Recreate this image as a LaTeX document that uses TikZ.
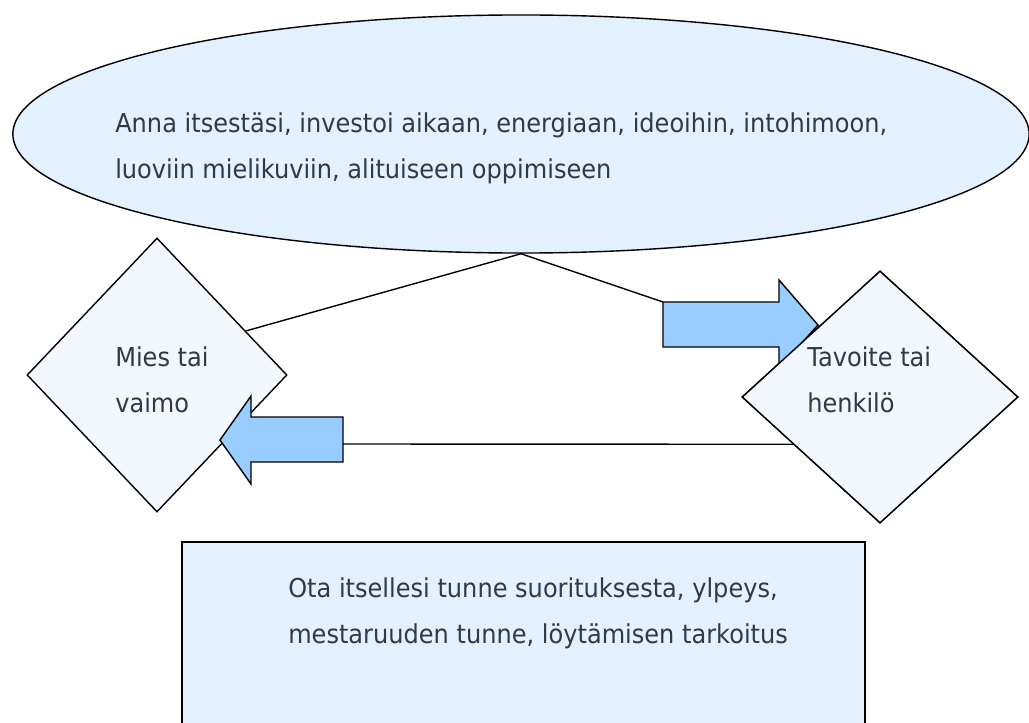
\documentclass[tikz,border=0pt]{standalone}
\usepackage{fontspec}
\newfontfamily\labelfont[FakeStretch=0.925]{DejaVu Sans}
\usetikzlibrary{shapes}
\usetikzlibrary{calc}
\definecolor{pale_blue}{HTML}{E3F0FE}
\definecolor{paler_blue}{HTML}{F3F8FE}
\definecolor{arrow_blue}{HTML}{99CCFF}
\definecolor{text_grey}{HTML}{2E3A46}
\tikzset{
  shape_base/.style = {draw=black, line width=1pt, inner sep=0pt},
  big_ellipse/.style = {shape_base, ellipse, fill=pale_blue,
    minimum width=25.4cm, minimum height=5.95cm},% ellipsi, anna
  person_diamond/.style = {shape_base, diamond, fill=paler_blue},% vinoneliot
  take_box/.style = {shape_base, rectangle, fill=pale_blue,
    minimum width=17.075cm, minimum height=5cm},% laatikko, ota
  block_arrow/.style = {draw=black, line width=1pt, fill=arrow_blue,
    line join=miter},% paksut nuolet
  link/.style = {draw=black, line width=1pt},
  label_text/.style = {anchor=base west, align=left, inner sep=0pt,
    text=text_grey, font=\labelfont\fontsize{18.5}{32.7}\selectfont}
}

\begin{document}
\begin{tikzpicture}[x=0.025cm, y=-0.025cm]
  \useasboundingbox (0,0) rectangle (1029,722);
  \clip (0,0) rectangle (1029,722);
  \node [big_ellipse] (give) at (521,134) {};
  \coordinate (push_start) at (663,302);
  \coordinate (pull_end) at (343,444);
  \node [person_diamond, minimum width=6.5cm, minimum height=6.85cm] (mies) at (157,375) {};
  \node [person_diamond, minimum width=6.9cm, minimum height=6.3cm] (tavoite) at (880,397) {};
  \draw [link] (give.south) -- ($(mies.north)!0.68!(mies.east)$);
  \draw [link] (give.south) -- (push_start);
  % nuolet
  \draw [block_arrow] (push_start) -- (779,302) -- (779,280) -- (818,325)
    -- (779,368) -- (779,347) -- (663,347) -- cycle;
  \draw [block_arrow] (343,417) -- (251,417) -- (251,396) -- (220,440)
    -- (251,484) -- (251,462) -- (343,462) -- cycle;
  \node [person_diamond, minimum width=6.9cm, minimum height=6.3cm] at (tavoite) {};
  \draw [link] (pull_end) -- ($(tavoite.west)!0.373!(tavoite.south)$);
  \node [take_box] (take) at (523.5,642) {};
  % tekstit (ankkuri = viimeisen rivin perusviiva)
  \node [label_text] (give_text) at (115,178)
    {Anna itsestäsi, investoi aikaan, energiaan, ideoihin, intohimoon,\\
     luoviin mielikuviin, alituiseen oppimiseen};
  \node [label_text] (mies_text) at (115,412) {Mies tai\\vaimo};
  \node [label_text] (tavoite_text) at (807,412) {Tavoite tai\\henkilö};
  \node [label_text] (take_text) at (288,643)
    {Ota itsellesi tunne suorituksesta, ylpeys,\\
     mestaruuden tunne, löytämisen tarkoitus};
\end{tikzpicture}
\end{document}
